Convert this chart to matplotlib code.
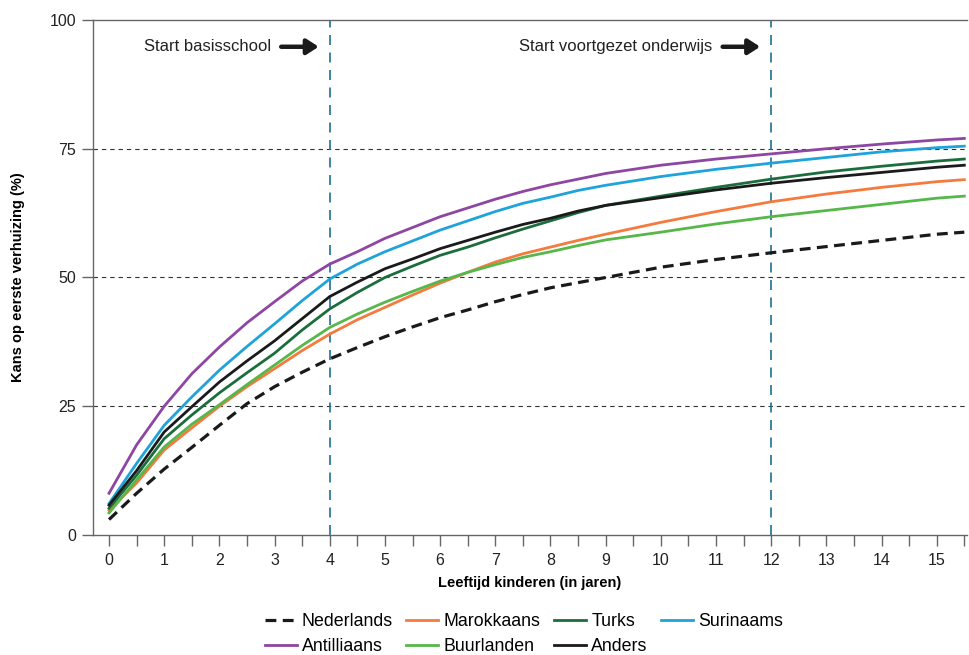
import matplotlib
matplotlib.use('Agg')
import matplotlib.pyplot as plt

plt.rcParams['font.family'] = ['Liberation Sans', 'DejaVu Sans']

# leeftijd in jaren
ages = [0, 0.5, 1, 1.5, 2, 2.5, 3, 3.5, 4, 4.5, 5, 5.5, 6, 6.5, 7, 7.5, 8, 8.5, 9,
        10, 11, 12, 13, 14, 15, 15.5]

nederlands = [3.0, 8.1, 12.8, 17.0, 21.3, 25.5, 28.8, 31.6, 34.2, 36.4, 38.5, 40.4, 42.2,
              43.7, 45.3, 46.7, 48.0, 49.0, 50.0, 52.0, 53.5, 54.8, 56.0, 57.2, 58.4, 58.8]
marokkaans = [4.8, 10.1, 16.5, 20.8, 25.0, 28.8, 32.3, 35.8, 39.0, 41.8, 44.2, 46.6, 48.9,
              51.0, 53.0, 54.6, 55.9, 57.2, 58.4, 60.7, 62.8, 64.7, 66.2, 67.5, 68.6, 69.0]
turks = [5.2, 11.6, 18.7, 23.3, 27.6, 31.5, 35.3, 39.8, 43.9, 47.1, 50.0, 52.2, 54.3,
         55.9, 57.7, 59.4, 61.0, 62.6, 64.0, 65.8, 67.5, 69.1, 70.5, 71.6, 72.6, 73.0]
surinaams = [6.1, 13.9, 21.3, 26.8, 32.0, 36.6, 41.0, 45.5, 49.7, 52.6, 55.0, 57.1, 59.2,
             61.0, 62.8, 64.4, 65.6, 66.9, 67.9, 69.6, 71.0, 72.2, 73.3, 74.4, 75.2, 75.5]
antilliaans = [8.1, 17.5, 25.0, 31.3, 36.5, 41.2, 45.3, 49.3, 52.6, 55.0, 57.6, 59.7, 61.8,
               63.5, 65.2, 66.7, 68.0, 69.1, 70.2, 71.8, 73.0, 74.0, 75.0, 75.9, 76.7, 77.0]
buurlanden = [4.3, 10.7, 17.1, 21.5, 25.3, 29.2, 33.0, 36.8, 40.3, 42.9, 45.2, 47.3, 49.3,
              51.0, 52.5, 53.9, 55.0, 56.2, 57.3, 58.8, 60.4, 61.8, 63.0, 64.2, 65.4, 65.8]
anders = [5.8, 12.5, 20.0, 24.9, 29.7, 33.8, 37.7, 42.0, 46.3, 49.1, 51.7, 53.6, 55.6,
          57.2, 58.8, 60.3, 61.5, 62.9, 64.0, 65.5, 67.0, 68.3, 69.4, 70.4, 71.4, 71.8]

school_starts = [4, 12]
school_labels = ['Start basisschool', 'Start voortgezet onderwijs']

fig = plt.figure(figsize=(9.7, 6.55), dpi=100)
ax = fig.add_axes([0.0959, 0.1832, 0.9011, 0.7863])

axis_col = '#666666'

# gestippelde hulplijnen
for yv in [25, 50, 75]:
    ax.axhline(yv, color='#333333', lw=0.8, dashes=(4, 3.5), zorder=1)

for xv in school_starts:
    ax.axvline(xv, color='#1f6f94', lw=1.2, dashes=(6, 4.5), zorder=1)

h_ned, = ax.plot(ages, nederlands, color='#1a1a1a', lw=2.3, dashes=(3.4, 2.0), label='Nederlands', zorder=3)
h_mar, = ax.plot(ages, marokkaans, color='#f47a3e', lw=2.0, label='Marokkaans', zorder=3)
h_tur, = ax.plot(ages, turks, color='#1b6e3c', lw=2.0, label='Turks', zorder=3)
h_sur, = ax.plot(ages, surinaams, color='#1ea3da', lw=2.0, label='Surinaams', zorder=3)
h_ant, = ax.plot(ages, antilliaans, color='#8e46a2', lw=2.0, label='Antilliaans', zorder=3)
h_buu, = ax.plot(ages, buurlanden, color='#56b74a', lw=2.0, label='Buurlanden', zorder=3)
h_and, = ax.plot(ages, anders, color='#1a1a1a', lw=2.0, label='Anders', zorder=3)

# pijlen met tekst
for xv, lbl in zip(school_starts, school_labels):
    ax.text(xv - 1.06, 94.8, lbl, ha='right', va='center', fontsize=12, color='#222222')
    ax.annotate('', xy=(xv - 0.2, 94.8), xytext=(xv - 0.88, 94.8),
                arrowprops=dict(arrowstyle='-|>,head_length=0.7,head_width=0.45',
                                lw=3.2, color='#1a1a1a', shrinkA=0, shrinkB=0))

ax.set_xlim(-0.29, 15.55)
ax.set_ylim(0, 100)

ax.set_xticks([i * 0.5 for i in range(32)])
ax.set_xticklabels([str(i // 2) if i % 2 == 0 else '' for i in range(32)])
ax.set_yticks([0, 25, 50, 75, 100])

ax.tick_params(axis='both', colors=axis_col, labelcolor='#222222', labelsize=11.5, width=1.0)
ax.tick_params(axis='x', length=8, pad=5)
ax.tick_params(axis='y', length=8, pad=4)

for side in ['left', 'bottom', 'top']:
    ax.spines[side].set_color(axis_col)
    ax.spines[side].set_linewidth(1.0)
ax.spines['right'].set_visible(False)

ax.set_xlabel('Leeftijd kinderen (in jaren)', fontsize=10.5, fontweight='bold', labelpad=6)
ax.set_ylabel('Kans op eerste verhuizing (%)', fontsize=10.5, fontweight='bold', labelpad=18)

handles = [h_ned, h_ant, h_mar, h_buu, h_tur, h_and, h_sur]
fig.legend(handles, [h.get_label() for h in handles], ncol=4, loc='upper center',
           bbox_to_anchor=(0.540, 0.0717), frameon=False, fontsize=12.8,
           handlelength=1.8, handletextpad=0.3, columnspacing=0.75, labelspacing=0.42,
           borderaxespad=0, borderpad=0.3)

fig.savefig('out.png', dpi=100)
